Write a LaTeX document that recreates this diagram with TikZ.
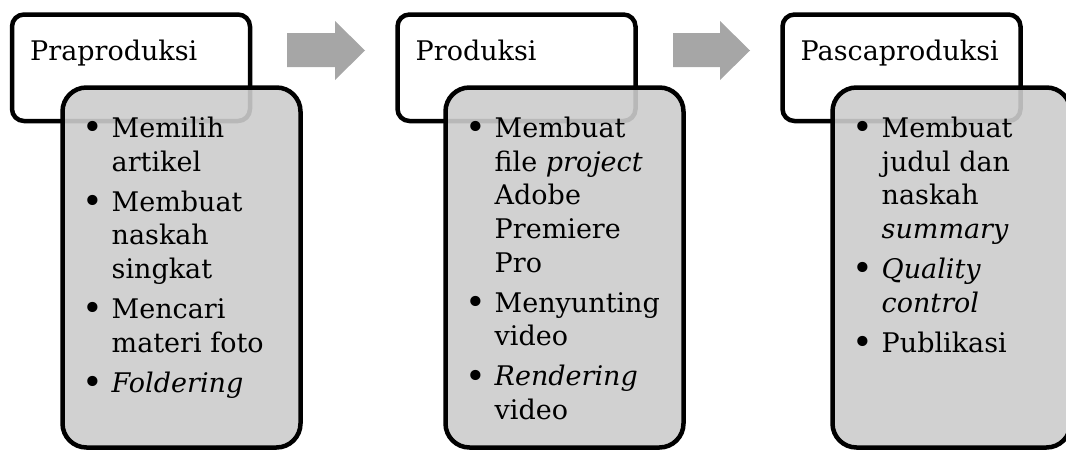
\documentclass[tikz,border=0pt]{standalone}
\usepackage{fontspec}
\setmainfont{DejaVu Serif}
\usepackage{array}
\usepackage{graphicx}
\begin{document}
\begin{tikzpicture}[x=1pt,y=-1pt,
  headbox/.style={draw=black,line width=4.5pt,fill=white,rounded corners=12pt},
  listbox/.style={draw=black,line width=4.5pt,fill=listgray,fill opacity=0.9,rounded corners=24pt},
  blockarrow/.style={fill=arrowgray,draw=none},
  headtext/.style={anchor=base west,inner sep=0pt,font=\fontsize{27}{33.7}\selectfont},
  listtext/.style={anchor=base west,inner sep=0pt,font=\fontsize{27}{33.7}\selectfont}]
\definecolor{listgray}{RGB}{204,204,204}
\definecolor{arrowgray}{RGB}{166,166,166}
\useasboundingbox (0,0) rectangle (1066,450);
\newcommand\bul{\makebox[20pt]{\raisebox{-2.5pt}{\scalebox{1.3}{\textbullet}}}}
% arrows
\fill[blockarrow] (287,33) -- (335,33) -- (335,21) -- (365,50.5) -- (335,80) -- (335,67) -- (287,67) -- cycle;
\fill[blockarrow] (673,33) -- (720,33) -- (720,21) -- (750,50.5) -- (720,80) -- (720,67) -- (673,67) -- cycle;
% boxes
\foreach \L/\n in {12/1,397.5/2,782.5/3}{
  \draw[headbox] (\L,14.5) rectangle ++(238,106.5);
}
\foreach \L/\n in {62.5/1,445.5/2,832.5/3}{
  \draw[listbox] (\L,87.5) rectangle ++(238,360);
}
% headings
\node[headtext] (h1) at (30,60) {Praproduksi};
\node[headtext] (h2) at (415.5,60) {Produksi};
\node[headtext] (h3) at (800.5,60) {Pascaproduksi};
% lists
\node[listtext] (l1) at (82.5,137.3) {\begin{tabular}[t]{@{}c@{\hspace{9pt}}l@{}}
\bul & Memilih\\ & artikel\\[6.3pt]
\bul & Membuat\\ & naskah\\ & singkat\\[6.3pt]
\bul & Mencari\\ & materi foto\\[6.3pt]
\bul & \textit{Foldering}
\end{tabular}};
\node[listtext] (l2) at (465.5,137.3) {\begin{tabular}[t]{@{}c@{\hspace{9pt}}l@{}}
\bul & Membuat\\ & file \textit{project}\\ & Adobe\\ & Premiere\\ & Pro\\[6.3pt]
\bul & Menyunting\\ & video\\[6.3pt]
\bul & \textit{Rendering}\\ & video
\end{tabular}};
\node[listtext] (l3) at (852.5,137.3) {\begin{tabular}[t]{@{}c@{\hspace{9pt}}l@{}}
\bul & Membuat\\ & judul dan\\ & naskah\\ & \textit{summary}\\[6.3pt]
\bul & \textit{Quality}\\ & \textit{control}\\[6.3pt]
\bul & Publikasi
\end{tabular}};
\end{tikzpicture}
\end{document}
